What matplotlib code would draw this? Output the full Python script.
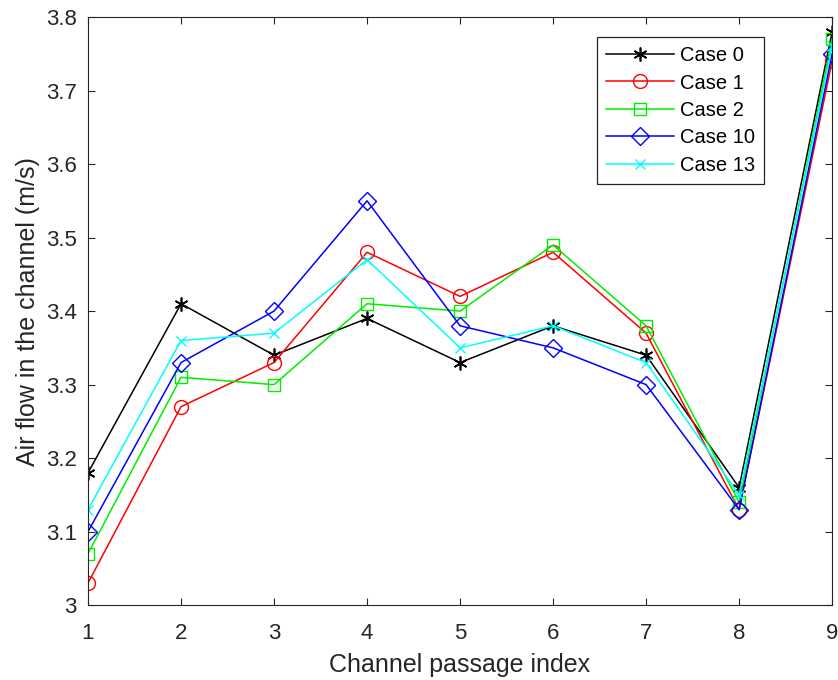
import matplotlib
matplotlib.use("Agg")
import matplotlib.pyplot as plt

plt.rcParams["font.family"] = ["Liberation Sans", "DejaVu Sans"]

idx = [1, 2, 3, 4, 5, 6, 7, 8, 9]
case0 = [3.18, 3.41, 3.34, 3.39, 3.33, 3.38, 3.34, 3.16, 3.78]
case1 = [3.03, 3.27, 3.33, 3.48, 3.42, 3.48, 3.37, 3.13, 3.74]
case2 = [3.07, 3.31, 3.30, 3.41, 3.40, 3.49, 3.38, 3.14, 3.77]
case10 = [3.10, 3.33, 3.40, 3.55, 3.38, 3.35, 3.30, 3.13, 3.75]
case13 = [3.13, 3.36, 3.37, 3.47, 3.35, 3.38, 3.33, 3.15, 3.76]
yticks = [3, 3.1, 3.2, 3.3, 3.4, 3.5, 3.6, 3.7, 3.8]
ytick_labels = ["3", "3.1", "3.2", "3.3", "3.4", "3.5", "3.6", "3.7", "3.8"]

dark = "#262626"

fig = plt.figure(figsize=(8.38, 6.8), dpi=100)
ax = fig.add_axes([0.105, 0.110, 0.888, 0.865])

ax.plot(idx, case0, color="black", marker=(6, 2, 0), markersize=10, mew=1.2, lw=1.1, label="Case 0")
ax.plot(idx, case1, color="red", marker="o", markersize=10, mfc="none", lw=1.1, label="Case 1")
ax.plot(idx, case2, color="#00ee00", marker="s", markersize=8, mfc="none", lw=1.1, label="Case 2")
ax.plot(idx, case10, color="blue", marker="D", markersize=9, mfc="none", lw=1.1, label="Case 10")
ax.plot(idx, case13, color="cyan", marker="x", markersize=7, lw=1.1, label="Case 13")

ax.set_xlim(1, 9)
ax.set_ylim(3, 3.8)
ax.set_xticks(idx)
ax.set_yticks(yticks)
ax.set_yticklabels(ytick_labels)
ax.tick_params(direction="in", top=True, right=True, labelsize=16, length=5,
               colors=dark, labelcolor=dark)
ax.tick_params(axis="x", pad=13)
ax.tick_params(axis="y", pad=8)
for s in ax.spines.values():
    s.set_color(dark)
ax.set_xlabel("Channel passage index", fontsize=18, color=dark, labelpad=6)
ax.set_ylabel("Air flow in the channel (m/s)", fontsize=18, color=dark, labelpad=4)

leg = ax.legend(loc="upper right", bbox_to_anchor=(0.909, 0.966), borderaxespad=0,
                fontsize=14.5, fancybox=False, edgecolor=dark, framealpha=1,
                handlelength=3.4, handletextpad=0.3, borderpad=0.45, labelspacing=0.42)
leg.get_frame().set_linewidth(0.9)

fig.savefig("out.png", dpi=100)
